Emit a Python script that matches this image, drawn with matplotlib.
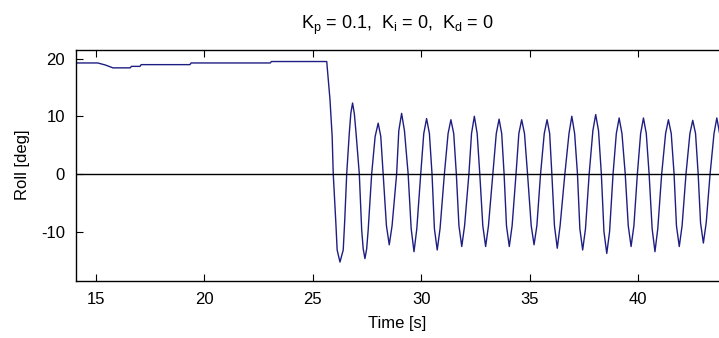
import matplotlib
matplotlib.use("Agg")
import matplotlib.pyplot as plt

# ==============================
# -------- DATA ----------------
# ==============================

# hold phase before the controller kicks in
hold_t = [14.10, 15.10, 15.45, 15.80, 16.60, 16.65, 17.05, 17.10,
          19.35, 19.40, 23.05, 23.10, 25.65]
hold_roll = [19.25, 19.25, 18.90, 18.40, 18.40, 18.66, 18.66, 18.96,
             18.96, 19.25, 19.25, 19.50, 19.50]

# oscillation phase (extrema, shoulders, zero crossings)
osc_t = [25.80, 25.90, 25.95, 26.07, 26.13, 26.26, 26.41, 26.48, 26.57, 26.69,
         26.76, 26.84, 26.92, 27.00, 27.15, 27.26, 27.33, 27.41, 27.49, 27.56,
         27.72, 27.88, 28.02, 28.14, 28.25, 28.40, 28.53, 28.66, 28.87, 28.97,
         29.10, 29.23, 29.40, 29.54, 29.67, 29.80, 29.98, 30.12, 30.25, 30.38,
         30.50, 30.61, 30.74, 30.87, 31.07, 31.24, 31.37, 31.50, 31.62, 31.74,
         31.87, 32.00, 32.20, 32.32, 32.45, 32.58, 32.70, 32.84, 32.97, 33.10,
         33.30, 33.46, 33.59, 33.71, 33.82, 33.93, 34.06, 34.19, 34.37, 34.50,
         34.63, 34.76, 34.90, 35.07, 35.20, 35.33, 35.50, 35.67, 35.80, 35.92,
         36.02, 36.14, 36.27, 36.40, 36.62, 36.81, 36.94, 37.07, 37.20, 37.31,
         37.44, 37.57, 37.74, 37.91, 38.04, 38.17, 38.30, 38.42, 38.55, 38.68,
         38.84, 38.99, 39.12, 39.25, 39.40, 39.54, 39.67, 39.80, 39.96, 40.11,
         40.24, 40.37, 40.50, 40.64, 40.77, 40.90, 41.08, 41.26, 41.39, 41.52,
         41.65, 41.76, 41.89, 42.02, 42.20, 42.38, 42.51, 42.64, 42.76, 42.87,
         43.00, 43.13, 43.31, 43.49, 43.62, 43.75]
osc_roll = [12.9, 6.5, 0.0, -8.5, -13.2, -15.3, -13.2, -8.0, 0.0, 7.1,
            10.5, 12.3, 10.5, 7.1, 0.0, -9.7, -13.0, -14.7, -13.0, -9.7,
            0.0, 6.5, 8.8, 6.5, 0.0, -9.0, -12.3, -9.0, 0.0, 7.5,
            10.5, 7.5, 0.0, -9.5, -13.5, -9.5, 0.0, 7.0, 9.6, 7.0,
            0.0, -9.5, -13.2, -9.5, 0.0, 7.0, 9.4, 7.0, 0.0, -9.0,
            -12.6, -9.0, 0.0, 7.0, 10.0, 7.0, 0.0, -9.0, -12.6, -9.0,
            0.0, 7.0, 9.5, 7.0, 0.0, -9.0, -12.6, -9.0, 0.0, 7.0,
            9.4, 7.0, 0.0, -9.0, -12.3, -9.0, 0.0, 7.0, 9.4, 7.0,
            0.0, -9.0, -12.9, -9.0, 0.0, 7.0, 10.0, 7.0, 0.0, -9.5,
            -13.2, -9.5, 0.0, 7.5, 10.3, 7.5, 0.0, -10.0, -13.8, -10.0,
            0.0, 7.0, 9.7, 7.0, 0.0, -9.0, -12.6, -9.0, 0.0, 7.0,
            9.7, 7.0, 0.0, -9.5, -13.5, -9.5, 0.0, 7.0, 9.4, 7.0,
            0.0, -9.0, -12.6, -9.0, 0.0, 7.0, 9.3, 7.0, 0.0, -8.5,
            -12.0, -8.5, 0.0, 7.0, 9.7, 7.0]

x_ticks = [15, 20, 25, 30, 35, 40]
y_ticks = [-10, 0, 10, 20]

# ==============================
# -------- PLOT ----------------
# ==============================

plt.rcParams['font.family'] = ['Liberation Sans', 'DejaVu Sans']
plt.rcParams['mathtext.fontset'] = 'custom'
plt.rcParams['mathtext.rm'] = 'Liberation Sans'
plt.rcParams['mathtext.it'] = 'Liberation Sans'
plt.rcParams['axes.unicode_minus'] = False

fig = plt.figure(figsize=(7.19, 3.38), dpi=100)
ax = fig.add_axes([76 / 719, 1 - 280.5 / 338, 1 - 76 / 719, 230.5 / 338])

t = hold_t + osc_t
roll = hold_roll + osc_roll
ax.plot(t, roll, color='#1e1e82', lw=1.0)
ax.axhline(0, color='k', lw=1.0)

ax.set_xlim(14.1, 43.72)
ax.set_ylim(-18.5, 21.5)
ax.set_xticks(x_ticks)
ax.set_yticks(y_ticks)

ax.spines['right'].set_visible(False)
for s in ['left', 'top', 'bottom']:
    ax.spines[s].set_linewidth(1.0)
ax.tick_params(direction='in', top=True, length=5, width=0.8,
               labelsize=12, pad=8)

ax.set_xlabel('Time [s]', fontsize=12, labelpad=7)
ax.set_ylabel('Roll [deg]', fontsize=12, labelpad=8)
ax.set_title(r'K$_\mathrm{p}$ = 0.1,  K$_\mathrm{i}$ = 0,  K$_\mathrm{d}$ = 0',
             fontsize=13, pad=15)

fig.savefig('out.png', dpi=100)
